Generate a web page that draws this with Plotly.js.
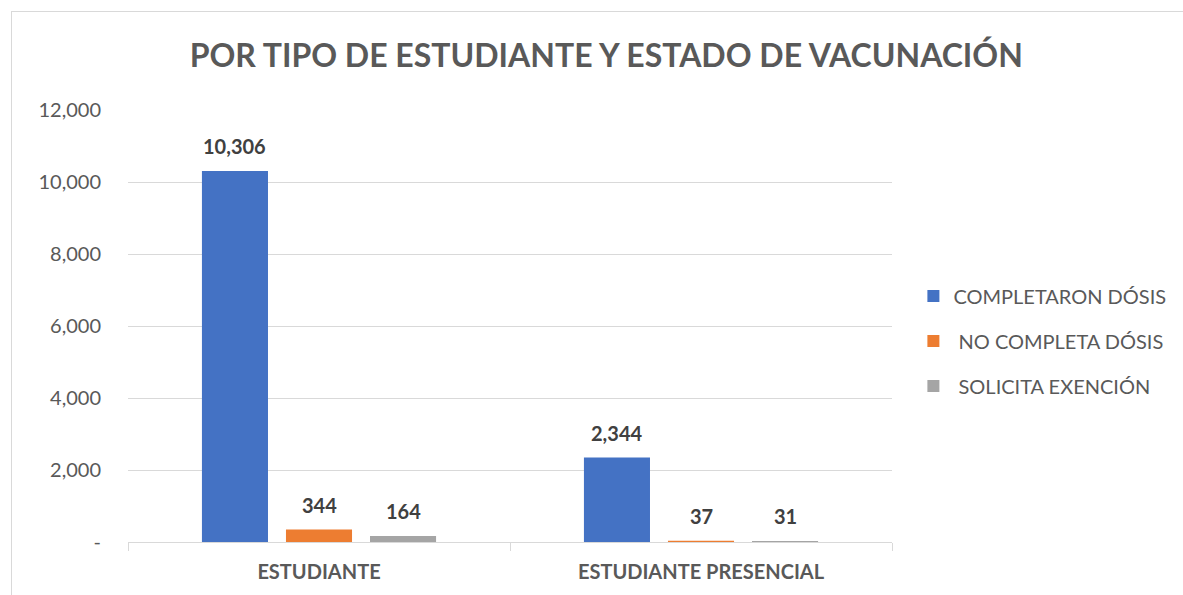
<!DOCTYPE html>
<html>
<head>
<meta charset="utf-8">
<script src="https://cdn.plot.ly/plotly-3.0.1.min.js"></script>
<style>
html,body{margin:0;padding:0;background:#fff;}
#frame{position:absolute;left:11px;top:11px;width:1300px;height:700px;border-left:1px solid #d9d9d9;border-top:1px solid #d9d9d9;}
#chart{position:absolute;left:0;top:0;width:1183px;height:595px;}
</style>
</head>
<body>
<div id="frame"></div>
<div id="chart"></div>
<script>
const categories = ["ESTUDIANTE", "ESTUDIANTE PRESENCIAL"];
const seriesNames = ["COMPLETARON DÓSIS", "\u00a0NO COMPLETA DÓSIS", "\u00a0SOLICITA EXENCIÓN"];
const completaron = [10306, 2344];
const noCompleta = [344, 37];
const solicita = [164, 31];
const seriesValues = [completaron, noCompleta, solicita];
const colors = ["#4472C4", "#ED7D31", "#A5A5A5"];
const yTickVals = [0, 2000, 4000, 6000, 8000, 10000, 12000];
const yTickText = ["-", "2,000", "4,000", "6,000", "8,000", "10,000", "12,000"];

const FONT = "Lato, 'Open Sans', sans-serif";

// layout geometry
const W = 1183, H = 595;
const M = {l: 128, r: 291, t: 110, b: 53};
const BARGAP = 0.34, BARGROUPGAP = 0.214;
const plotW = W - M.l - M.r;
const catW = plotW / categories.length;
const slotW = catW * (1 - BARGAP) / seriesValues.length;

const traces = seriesValues.map((vals, i) => ({
  type: "bar",
  name: seriesNames[i],
  x: categories,
  y: vals,
  legendgroup: "g" + i,
  marker: {color: colors[i], line: {width: 0}},
  hoverinfo: "skip"
}));

const annotations = [];
seriesValues.forEach((vals, i) => {
  vals.forEach((v, j) => {
    annotations.push({
      x: categories[j], y: v, xref: "x", yref: "y",
      xshift: (i - (seriesValues.length - 1) / 2) * slotW,
      yshift: 25,
      xanchor: "center", yanchor: "middle",
      showarrow: false,
      text: "<b>" + v.toLocaleString("en-US") + "</b>",
      font: {family: FONT, size: 20, color: "#404040"}
    });
  });
});

const layout = {
  width: W,
  height: H,
  paper_bgcolor: "rgba(0,0,0,0)",
  plot_bgcolor: "rgba(0,0,0,0)",
  margin: Object.assign({autoexpand: false}, M),
  title: {
    text: "<b>POR TIPO DE ESTUDIANTE Y ESTADO DE VACUNACIÓN</b>",
    font: {family: FONT, size: 32, color: "#595959"},
    x: 0.626, xanchor: "center", xref: "paper",
    y: 0.907, yanchor: "middle"
  },
  barmode: "group",
  bargap: BARGAP,
  bargroupgap: BARGROUPGAP,
  showlegend: true,
  legend: {
    x: 1.028, xanchor: "left", y: 0.465, yanchor: "middle",
    font: {family: FONT, size: 20, color: "#595959"},
    tracegroupgap: 16,
    bgcolor: "rgba(0,0,0,0)"
  },
  annotations: annotations,
  xaxis: {
    type: "category",
    automargin: false,
    showgrid: false,
    showline: true,
    linecolor: "#d9d9d9",
    linewidth: 1,
    ticks: "outside",
    tickson: "boundaries",
    ticklen: 8,
    tickcolor: "#d9d9d9",
    tickfont: {family: FONT, size: 20, color: "#595959"},
    ticklabelstandoff: 12,
    ticktext: categories.map(c => "<b>" + c + "</b>"),
    tickvals: categories,
    tickmode: "array"
  },
  yaxis: {
    automargin: false,
    range: [0, 12000],
    tickmode: "array",
    tickvals: yTickVals,
    ticktext: yTickText,
    showgrid: true,
    gridcolor: "#d9d9d9",
    gridwidth: 1,
    zeroline: false,
    showline: false,
    ticks: "",
    ticklabelstandoff: 26,
    tickfont: {family: FONT, size: 20, color: "#595959"}
  },
  font: {family: FONT}
};

Plotly.newPlot("chart", traces, layout, {displayModeBar: false, staticPlot: true});
</script>
</body>
</html>
